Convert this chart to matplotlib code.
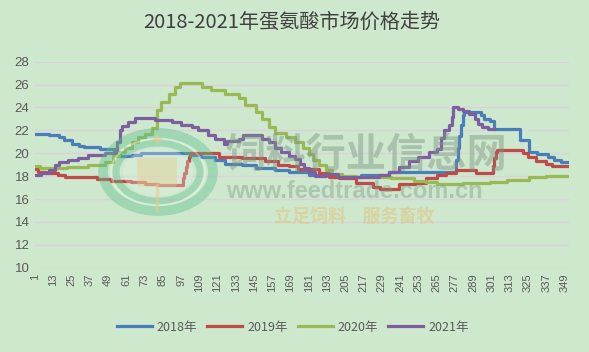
import numpy as np
import matplotlib.pyplot as plt
from matplotlib.patches import Ellipse, FancyBboxPatch
from matplotlib.lines import Line2D

plt.rcParams['font.family'] = ['Noto Sans CJK SC', 'DejaVu Sans']

# 2018年 (价格变动的日序号, 价格)
days_2018 = [1, 10, 17, 20, 25, 30, 33, 44, 54, 57, 65, 71, 104, 110, 119, 126, 137, 146, 159, 168,
             181, 195, 215, 234, 278, 279, 280, 281, 282, 283, 294, 296, 300, 303, 320, 326, 331, 338,
             342, 347, 352]
price_2018 = [21.65, 21.6, 21.4, 21.15, 20.85, 20.6, 20.55, 20.4, 19.85, 19.75, 19.85, 20.0, 19.85,
              19.65, 19.4, 19.1, 18.95, 18.75, 18.5, 18.35, 18.1, 17.95, 18.1, 18.35, 19.4, 20.5,
              21.5, 22.5, 23.3, 23.6, 23.3, 23.0, 22.8, 22.1, 21.15, 20.1, 19.9, 19.7, 19.4, 19.25,
              19.25]

# 2019年
days_2019 = [1, 3, 8, 16, 21, 42, 51, 64, 73, 82, 98, 99, 100, 101, 102, 103, 122, 137, 152, 161,
             168, 174, 188, 194, 201, 212, 223, 228, 240, 251, 258, 265, 271, 278, 291, 302, 303, 304,
             305, 322, 325, 330, 337, 341, 352]
price_2019 = [18.6, 18.4, 18.3, 18.1, 17.9, 17.75, 17.55, 17.45, 17.35, 17.25, 17.8, 18.3, 18.8,
              19.3, 19.7, 20.05, 19.7, 19.55, 19.3, 18.95, 18.88, 18.6, 18.3, 17.95, 17.8, 17.42,
              17.07, 16.85, 17.3, 17.4, 17.8, 18.1, 18.3, 18.53, 18.25, 18.9, 19.6, 20.1, 20.28, 20.0,
              19.7, 19.3, 19.1, 18.9, 18.9]

# 2020年
days_2020 = [1, 4, 22, 36, 47, 52, 56, 60, 65, 69, 73, 78, 81, 84, 89, 93, 96, 111, 117, 126, 135,
             139, 146, 150, 155, 159, 166, 172, 177, 181, 184, 188, 192, 196, 203, 212, 235, 250, 258,
             265, 282, 300, 311, 326, 337, 352]
price_2020 = [18.9, 18.68, 18.8, 18.95, 19.2, 19.75, 20.1, 20.5, 21.0, 21.4, 21.7, 22.2, 23.77,
              24.5, 25.2, 25.8, 26.1, 25.8, 25.5, 25.2, 24.8, 24.2, 23.6, 23.0, 22.3, 21.8, 21.4,
              21.0, 20.5, 19.9, 19.4, 18.97, 18.5, 18.2, 18.05, 17.95, 17.85, 17.6, 17.45, 17.3,
              17.4, 17.5, 17.7, 17.9, 18.05, 18.05]

# 2021年
days_2021 = [1, 5, 10, 14, 17, 23, 29, 36, 47, 53, 55, 57, 58, 62, 67, 80, 91, 97, 104, 108, 115,
             119, 125, 127, 135, 138, 150, 155, 159, 163, 168, 172, 175, 178, 181, 185, 192, 200, 207,
             227, 234, 240, 247, 253, 260, 265, 268, 270, 273, 275, 276, 279, 282, 286, 290, 292, 295,
             299, 303]
price_2021 = [18.1, 18.3, 18.5, 19.0, 19.2, 19.4, 19.6, 19.85, 20.0, 20.3, 21.0, 22.0, 22.4, 22.75,
              23.1, 22.9, 22.75, 22.5, 22.3, 22.0, 21.6, 21.25, 20.8, 21.1, 21.25, 21.6, 21.25, 21.0,
              20.5, 20.1, 19.8, 19.5, 19.1, 18.7, 18.4, 18.0, 18.2, 17.95, 17.9, 18.1, 18.4, 18.8,
              19.3, 19.7, 20.1, 20.4, 21.3, 22.0, 22.5, 23.2, 24.05, 23.9, 23.7, 23.4, 23.0, 22.6,
              22.3, 22.1, 22.1]

x_ticks = np.arange(1, 352, 12)
y_ticks = np.arange(10, 29, 2)

bg = '#cde8cd'
text_color = '#595959'

fig = plt.figure(figsize=(5.89, 3.52), dpi=100, facecolor=bg)
ax = fig.add_axes([35 / 589, 1 - 267.7 / 352, 534 / 589, 206 / 352])
ax.set_facecolor(bg)

ax.plot(days_2018, price_2018, drawstyle='steps-post', color='#4a7ebb', lw=2.3, label='2018年')
ax.plot(days_2019, price_2019, drawstyle='steps-post', color='#be4b48', lw=2.3, label='2019年')
ax.plot(days_2020, price_2020, drawstyle='steps-post', color='#98b954', lw=2.3, label='2020年')
ax.plot(days_2021, price_2021, drawstyle='steps-post', color='#7d5fa0', lw=2.3, label='2021年')

ax.set_xlim(1, 352)
ax.set_ylim(10, 28)
ax.set_yticks(y_ticks)
ax.set_xticks(x_ticks)
ax.set_xticklabels([str(t) for t in x_ticks], rotation=90, fontsize=8, color=text_color,
                   family=['Liberation Sans', 'DejaVu Sans'])
ax.set_yticklabels([str(t) for t in y_ticks], fontsize=9.5, color=text_color,
                   family=['Liberation Sans', 'DejaVu Sans'])
ax.tick_params(length=0, pad=4)
ax.grid(axis='y', color='#dad2da', lw=1)
ax.set_axisbelow(True)
for s in ax.spines.values():
    s.set_visible(False)

# 标题
fig.text(0.495, 1 - 22 / 352, '2018-2021年蛋氨酸市场价格走势', ha='center', va='center',
         fontsize=14.5, color='#404040')

# 图例
fig.legend(loc='center', bbox_to_anchor=(0.497, 1 - 327 / 352), ncol=4, frameon=False,
           fontsize=9, handlelength=2.8, columnspacing=0.8, handletextpad=0.4,
           labelcolor=text_color)

# 水印 logo
cx, cy = 158 / 589, 1 - 172 / 352
for w, h, c, lw in [(110, 78, '#5cbf8e', 7), (94, 66, '#f0f8f0', 1.5), (84, 58, '#5cbf8e', 5)]:
    e = Ellipse((cx, cy), w / 589, h / 352, transform=fig.transFigure,
                fill=False, ec=c, lw=lw, alpha=0.4, zorder=5)
    fig.add_artist(e)
fig.add_artist(Ellipse((cx, cy), 70 / 589, 48 / 352, transform=fig.transFigure,
                       fc='#e6f4ea', ec='none', alpha=0.3, zorder=5))
fig.add_artist(FancyBboxPatch((140 / 589, 1 - 185 / 352), 34 / 589, 26 / 352,
                              boxstyle='round,pad=0.005', transform=fig.transFigure,
                              fc='#e8c98a', ec='none', alpha=0.4, zorder=6))
fig.add_artist(Line2D([157 / 589, 157 / 589], [1 - 185 / 352, 1 - 210 / 352],
                      transform=fig.transFigure, color='#e8c98a', lw=2.5, alpha=0.55, zorder=6))
fig.text(157 / 589, 1 - 142 / 352, '✦', ha='center', va='center', fontsize=13,
         color='#e8c98a', alpha=0.6, family=['DejaVu Sans'], zorder=6)

# 水印文字
fig.text(366 / 589, 1 - 155 / 352, '饲料行业信息网', ha='center', va='center', fontsize=29,
         fontweight='bold', color='#7d9585', alpha=0.45)
fig.text(354 / 589, 1 - 191 / 352, 'www.feedtrade.com.cn', ha='center', va='center', fontsize=17,
         fontweight='bold', color='#7d9585', alpha=0.4, family=['Liberation Sans', 'DejaVu Sans'])
fig.text(354 / 589, 1 - 216 / 352, '立足饲料    服务畜牧', ha='center', va='center', fontsize=13,
         fontweight='bold', fontstyle='italic', color='#e2c27a', alpha=0.55)

fig.savefig('out.png', dpi=100, facecolor=bg)
